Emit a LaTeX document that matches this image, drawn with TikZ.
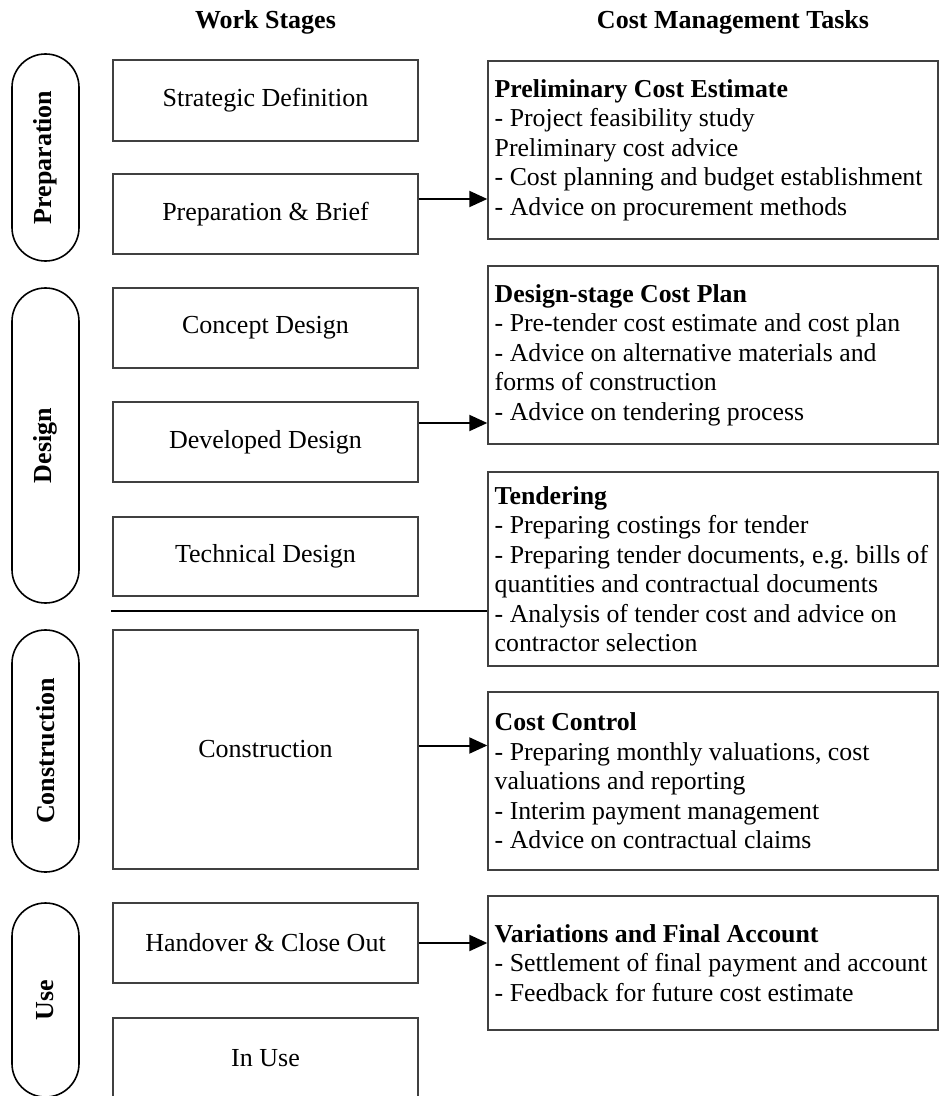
\documentclass[tikz,border=0pt]{standalone}
\usepackage{fontspec}
\setmainfont{Liberation Serif}
\usepackage{tikz}
\usetikzlibrary{arrows.meta}
\usetikzlibrary{positioning}

\tikzset{
	stagebox/.style={draw=black!75, line width=0.7pt, minimum width=152.5pt, minimum height=40pt, inner sep=0pt, font=\fontsize{13}{15}\selectfont},
	taskbox/.style={draw=black!75, line width=0.7pt, minimum width=225pt, inner sep=0pt},
	tasktext/.style={align=left, inner sep=0pt, font=\fontsize{12.9}{14.75}\selectfont\frenchspacing},
	phasepill/.style={draw=black, line width=0.8pt, rounded corners=16.7pt, minimum height=33.5pt, inner sep=0pt, font=\fontsize{13}{15}\selectfont\bfseries},
	arrowline/.style={line width=1pt, -{Triangle[length=9pt,width=8pt]}},
	heading/.style={font=\fontsize{13}{15}\selectfont\bfseries}
}

\begin{document}
\begin{tikzpicture}[x=0.5pt,y=-0.5pt]
	\useasboundingbox (0,0) rectangle (939,1096);
	\node[heading] (hstage) at (265.5,22) {Work Stages};
	\node[heading] (htask) at (733,22) {Cost Management Tasks};
	% work stages
	\foreach \y/\h/\name/\txt in {100.5/81/sd/Strategic Definition, 214/80/pb/Preparation \& Brief, 328/80/cd/Concept Design, 442/80/dd/Developed Design, 556.5/79/td/Technical Design, 749.5/239/cn/Construction, 943/80/hc/Handover \& Close Out, 1058/80/iu/In Use}{
		\node[stagebox, minimum height=\h*0.5pt] (\name) at (265.5,\y) {\txt};
	}
	% phases
	\foreach \y/\h/\name/\txt in {157.5/207/prep/Preparation, 445.5/315/des/Design, 751/242/con/Construction, 1000/194/use/Use}{
		\node[phasepill, minimum width=\h*0.5pt, rotate=90] (p\name) at (45.5,\y) {\txt};
	}
	% tasks
	\node[taskbox, minimum height=89pt] (pce) at (713,150) {};
	\node[tasktext, right=3.5pt of pce.west] (pcet) {\textbf{Preliminary Cost Estimate}\\- Project feasibility study\\Preliminary cost advice\\- Cost planning and budget establishment\\- Advice on procurement methods};
	\node[taskbox, minimum height=89pt] (dcp) at (713,355) {};
	\node[tasktext, right=3.5pt of dcp.west] (dcpt) {\textbf{Design-stage Cost Plan}\\- Pre-tender cost estimate and cost plan\\- Advice on alternative materials and\\forms of construction\\- Advice on tendering process};
	\node[taskbox, minimum height=97pt] (tnd) at (713,569) {};
	\node[tasktext, right=3.5pt of tnd.west] (tndt) {\textbf{Tendering}\\- Preparing costings for tender\\- Preparing tender documents, e.g. bills of\\quantities and contractual documents\\- Analysis of tender cost and advice on\\contractor selection};
	\node[taskbox, minimum height=89pt] (cc) at (713,781) {};
	\node[tasktext, right=3.5pt of cc.west] (cct) {\textbf{Cost Control}\\- Preparing monthly valuations, cost\\valuations and reporting\\- Interim payment management\\- Advice on contractual claims};
	\node[taskbox, minimum height=67pt] (vfa) at (713,963) {};
	\node[tasktext, right=3.5pt of vfa.west] (vfat) {\textbf{Variations and Final Account}\\- Settlement of final payment and account\\- Feedback for future cost estimate};
	% arrows
	\draw[arrowline] ([yshift=7.5pt]pb.east) -- ([yshift=7.5pt]pb.east -| pce.west);
	\draw[arrowline] ([yshift=9.5pt]dd.east) -- ([yshift=9.5pt]dd.east -| dcp.west);
	\draw[arrowline] ([yshift=2pt]cn.east) -- ([yshift=2pt]cn.east -| cc.west);
	\draw[arrowline] (hc.east) -- (hc.east -| vfa.west);
	% divider
	\coordinate (divl) at (111,611);
	\draw[line width=1pt] (divl) -- (divl -| tnd.west);
\end{tikzpicture}
\end{document}
